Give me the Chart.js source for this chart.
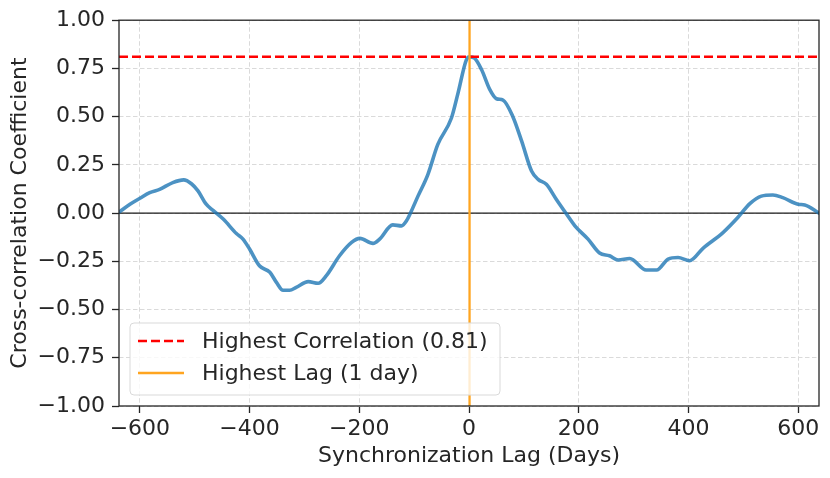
<!DOCTYPE html>
<html><head><meta charset="utf-8">
<script src="https://cdn.jsdelivr.net/npm/chart.js@4.4.1/dist/chart.umd.min.js"></script>
<style>html,body{margin:0;padding:0;background:#fff;overflow:hidden}</style>
</head><body>
<canvas id="c" width="830" height="478" style="width:830px;height:478px;display:block"></canvas>
<script>
const lags = [-638,-618,-600,-582,-564,-540,-520,-506,-494,-479,-467,-448,-424,-412,-400,-382,-363,-351,-339,-327,-315,-293,-275,-260,-236,-214,-199,-175,-163,-139,-123,-114,-105,-93,-75,-57,-32,-20,-5,1,10,23,38,50,62,80,96,114,126,141,159,178,193,217,238,256,272,293,323,342,363,381,402,427,463,490,512,533,554,572,600,612,638];
const corr = [0.005,0.046,0.077,0.106,0.123,0.158,0.172,0.152,0.115,0.046,0.015,-0.031,-0.106,-0.135,-0.186,-0.273,-0.307,-0.359,-0.400,-0.400,-0.385,-0.355,-0.364,-0.324,-0.221,-0.152,-0.131,-0.157,-0.135,-0.061,-0.066,-0.040,0.011,0.088,0.200,0.355,0.493,0.622,0.793,0.810,0.803,0.743,0.640,0.593,0.586,0.500,0.373,0.218,0.175,0.149,0.072,-0.006,-0.066,-0.135,-0.207,-0.221,-0.243,-0.235,-0.295,-0.295,-0.238,-0.230,-0.247,-0.181,-0.101,-0.023,0.049,0.088,0.094,0.080,0.046,0.042,0.000];
const xTicks = [-600,-400,-200,0,200,400,600];
const yTicks = [-1,-0.75,-0.5,-0.25,0,0.25,0.5,0.75,1];
const xRange = [-638, 638];
const yRange = [-1, 1];
const peakCorr = 0.81;
const peakLag = 1;
const legendLabels = ['Highest Correlation (0.81)', 'Highest Lag (1 day)'];

const FONT = 'DejaVu Sans';
const FS = 22;
const minus = s => String(s).replace('-', '\u2212');

const framePlugin = {
  id: 'frame',
  afterDatasetsDraw(chart) {
    const {ctx, chartArea: a} = chart;
    ctx.save();
    ctx.strokeStyle = '#262626';
    ctx.lineWidth = 1.3;
    ctx.setLineDash([]);
    ctx.strokeRect(a.left, a.top, a.right - a.left, a.bottom - a.top);
    ctx.restore();
  },
  afterDraw(chart) {
    const {ctx} = chart;
    const ds = chart.data.datasets;
    const items = [ds[2], ds[3]];
    const bx = 130, by = 323, bw = 370, bh = 72, r = 4;
    ctx.save();
    ctx.globalAlpha = 0.8;
    ctx.fillStyle = '#ffffff';
    ctx.beginPath();
    ctx.roundRect(bx, by, bw, bh, r);
    ctx.fill();
    ctx.globalAlpha = 1;
    ctx.strokeStyle = '#d9d9d9';
    ctx.lineWidth = 1;
    ctx.stroke();
    ctx.font = FS + 'px "' + FONT + '"';
    ctx.fillStyle = '#262626';
    ctx.textBaseline = 'middle';
    items.forEach((d, i) => {
      const y = by + 18 + i * 32;
      ctx.beginPath();
      ctx.strokeStyle = d.borderColor;
      ctx.lineWidth = d.borderWidth;
      ctx.setLineDash(d.borderDash || []);
      ctx.moveTo(138, y);
      ctx.lineTo(184, y);
      ctx.stroke();
      ctx.setLineDash([]);
      ctx.fillText(d.label, 202, y + 1);
    });
    ctx.restore();
  }
};

new Chart(document.getElementById('c'), {
  type: 'line',
  data: {
    datasets: [
      {
        label: 'zero',
        data: xRange.map(x => ({x, y: 0})),
        borderColor: '#1a1a1a', borderWidth: 1.3, pointRadius: 0, order: 4
      },
      {
        label: 'Cross-correlation',
        data: lags.map((x, i) => ({x, y: corr[i]})),
        borderColor: 'rgba(31,119,180,0.8)', borderWidth: 3.6, pointRadius: 0,
        cubicInterpolationMode: 'monotone', order: 3, borderJoinStyle: 'round', borderCapStyle: 'round'
      },
      {
        label: legendLabels[0],
        data: xRange.map(x => ({x, y: peakCorr})),
        borderColor: '#ff0000', borderWidth: 2.5, borderDash: [9, 4], pointRadius: 0, order: 2
      },
      {
        label: legendLabels[1],
        data: yRange.map(y => ({x: peakLag, y})),
        borderColor: '#ffa520', borderWidth: 2.3, pointRadius: 0, order: 1
      }
    ]
  },
  options: {
    responsive: false,
    animation: false,
    devicePixelRatio: 1,
    layout: {padding: {left: 0, top: 18, right: 11, bottom: 0}},
    plugins: {legend: {display: false}, tooltip: {enabled: false}},
    scales: {
      x: {
        type: 'linear', min: xRange[0], max: xRange[1],
        afterBuildTicks: s => { s.ticks = xTicks.map(v => ({value: v})); },
        afterFit: s => { s.height = 72; },
        grid: {color: '#dadada', lineWidth: 1, tickLength: 7, tickColor: '#262626', tickWidth: 1.3, drawTicks: true},
        border: {display: false, dash: [4.5, 2.5]},
        ticks: {font: {family: FONT, size: FS}, color: '#262626', padding: 3, maxRotation: 0,
          callback: v => minus(v)},
        title: {display: true, text: 'Synchronization Lag (Days)', font: {family: FONT, size: FS}, color: '#262626',
          padding: {top: 0, bottom: 9}}
      },
      y: {
        type: 'linear', min: yRange[0], max: yRange[1],
        afterBuildTicks: s => { s.ticks = yTicks.map(v => ({value: v})); },
        afterFit: s => { s.width = 119; },
        grid: {color: '#dadada', lineWidth: 1, tickLength: 7, tickColor: '#262626', tickWidth: 1.3},
        border: {display: false, dash: [4.5, 2.5]},
        ticks: {font: {family: FONT, size: FS}, color: '#262626', padding: 7,
          callback: v => minus(Number(v).toFixed(2))},
        title: {display: true, text: 'Cross-correlation Coefficient', font: {family: FONT, size: FS}, color: '#262626',
          padding: {top: 7, bottom: 0}}
      }
    }
  },
  plugins: [framePlugin]
});
</script>
</body></html>
